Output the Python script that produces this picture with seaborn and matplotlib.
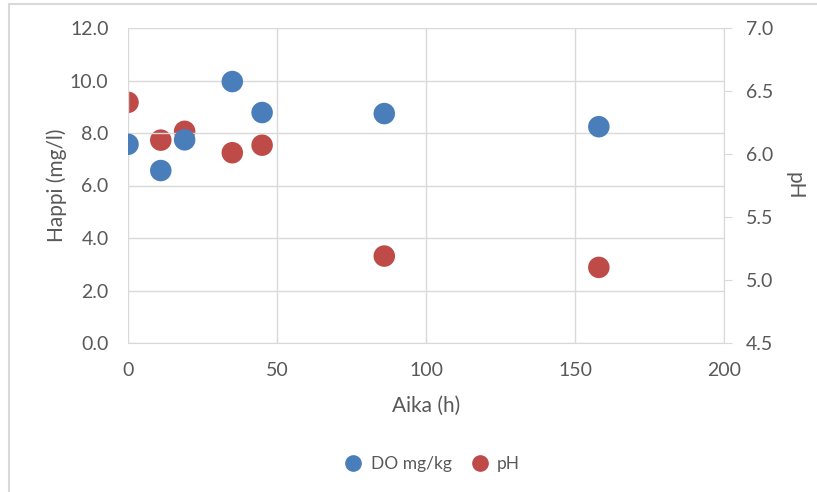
import matplotlib
matplotlib.use("Agg")
import matplotlib.pyplot as plt
import seaborn as sns
import pandas as pd
from matplotlib.patches import Rectangle
from matplotlib.lines import Line2D

time_h = [0, 11, 19, 35, 45, 86, 158]
do_mgkg = [7.57, 6.57, 7.74, 9.96, 8.78, 8.74, 8.24]
ph = [6.41, 6.11, 6.18, 6.01, 6.07, 5.19, 5.10]

x_ticks = [0, 50, 100, 150, 200]
left_ticks = [0, 2, 4, 6, 8, 10, 12]
right_ticks = [4.5, 5.0, 5.5, 6.0, 6.5, 7.0]

blue = "#4A7EBB"
red = "#BE4B48"
grid_c = "#D9D9D9"
text_c = "#595959"

sns.set_style("white")
plt.rcParams["font.family"] = ["Lato", "DejaVu Sans"]

df = pd.DataFrame({"t": time_h, "do": do_mgkg, "ph": ph})

fig = plt.figure(figsize=(8.17, 4.92), dpi=100)
ax = fig.add_axes([128/817, 1-343/492, (724-128)/817, (343-28)/492])
ax2 = ax.twinx()

sns.scatterplot(data=df, x="t", y="do", ax=ax, color=blue, s=240, edgecolor="none", zorder=3, legend=False)
sns.scatterplot(data=df, x="t", y="ph", ax=ax2, color=red, s=240, edgecolor="none", zorder=3, legend=False)

ax.set_xlim(0, 200)
ax.set_ylim(0, 12)
ax2.set_ylim(4.5, 7.0)
ax.set_xticks(x_ticks)
ax.set_yticks(left_ticks)
ax2.set_yticks(right_ticks)
ax.set_yticklabels([f"{v:.1f}" for v in left_ticks])
ax2.set_yticklabels([f"{v:.1f}" for v in right_ticks])
ax.set_xticklabels([str(v) for v in x_ticks])

ax.grid(True, color=grid_c, lw=1)
ax.set_axisbelow(True)
ax2.grid(False)
for a in (ax, ax2):
    for s in a.spines.values():
        s.set_visible(False)
ax2.spines["right"].set_visible(True)
ax2.spines["right"].set_color(grid_c)
ax.spines["bottom"].set_visible(True)
ax.spines["bottom"].set_color(grid_c)

ax.tick_params(axis="y", length=0, labelsize=14, labelcolor=text_c, pad=14)
ax.tick_params(axis="x", length=0, labelsize=14, labelcolor=text_c, pad=14)
ax2.tick_params(axis="y", length=6, color=grid_c, labelsize=14, labelcolor=text_c, pad=10, direction="out")

ax.set_xlabel("Aika (h)", fontsize=15, color=text_c, labelpad=12)
ax.set_ylabel("Happi (mg/l)", fontsize=15, color=text_c, labelpad=2)
ax2.set_ylabel("pH", fontsize=15, color=text_c, labelpad=8, rotation=270, va="bottom")

ax.set_zorder(ax2.get_zorder() + 1)
ax.patch.set_visible(False)

handles = [Line2D([], [], ls="none", marker="o", ms=11, color=blue, label="DO mg/kg"),
           Line2D([], [], ls="none", marker="o", ms=11, color=red, label="pH")]
fig.legend(handles=handles, loc="center", bbox_to_anchor=(428/817, 1-464/492), ncol=2,
           frameon=False, fontsize=12.5, handletextpad=0.0, columnspacing=0.6, labelcolor=text_c)

fig.patches.append(Rectangle((9/817, -0.1), 1.2, 1-4/492+0.1, transform=fig.transFigure,
                             fill=False, edgecolor="#D9D9D9", lw=1.5))

fig.savefig("out.png", dpi=100)
